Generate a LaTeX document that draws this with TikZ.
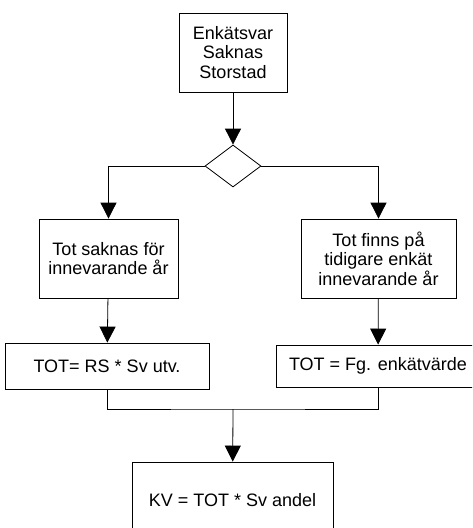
\documentclass[tikz,border=0pt]{standalone}
\usepackage{fontspec}
\setmainfont{Liberation Sans}
\usetikzlibrary{shapes.geometric,arrows.meta}

\tikzstyle{box}=[draw, rectangle, line width=0.8pt, align=center, inner sep=0, font=\fontsize{18}{19.5}\selectfont]
\tikzstyle{choice}=[draw, diamond, line width=0.8pt, inner sep=0, minimum width=56pt, minimum height=42pt, aspect=1.33]
\tikzstyle{flow}=[line width=0.8pt, -{Triangle[length=16pt, width=16pt]}]

\begin{document}
\begin{tikzpicture}[x=1pt, y=-1pt]

\useasboundingbox (0, 0) rectangle (472, 528);
\clip (0, 0) rectangle (472, 528);

\node [box, minimum width=108pt, minimum height=79pt] (enk) at (233, 52.5) {Enkätsvar\\Saknas\\Storstad};
\node [choice] (val) at (233, 166) {};
\node [box, minimum width=139pt, minimum height=79pt] (saknas) at (108.5, 258.5) {Tot saknas för\\innevarande år};
\node [box, minimum width=155pt, minimum height=79pt] (finns) at (378.5, 258.5) {Tot finns på\\tidigare enkät\\innevarande år};
\node [box, minimum width=204pt, minimum height=46pt] (utv) at (107, 366) {TOT= RS * Sv utv.};
\node [box, minimum width=204pt, minimum height=42pt] (fg) at (378, 366) {TOT = Fg. enkätvärde};
\node [box, minimum width=201pt, minimum height=76pt] (kv) at (232.5, 500) {KV = TOT * Sv andel};
\coordinate (join) at (233, 409);

\draw [flow] (enk) to (val);
\draw [flow] (val.west) -| (saknas.north);
\draw [flow] (val.east) -| (finns.north);
\draw [flow] (saknas) to (utv);
\draw [flow] (finns) to (fg);
\draw [line width=0.8pt] (utv.south) |- (join) -| (fg.south);
\draw [flow] (join) to (kv);

\end{tikzpicture}
\end{document}
